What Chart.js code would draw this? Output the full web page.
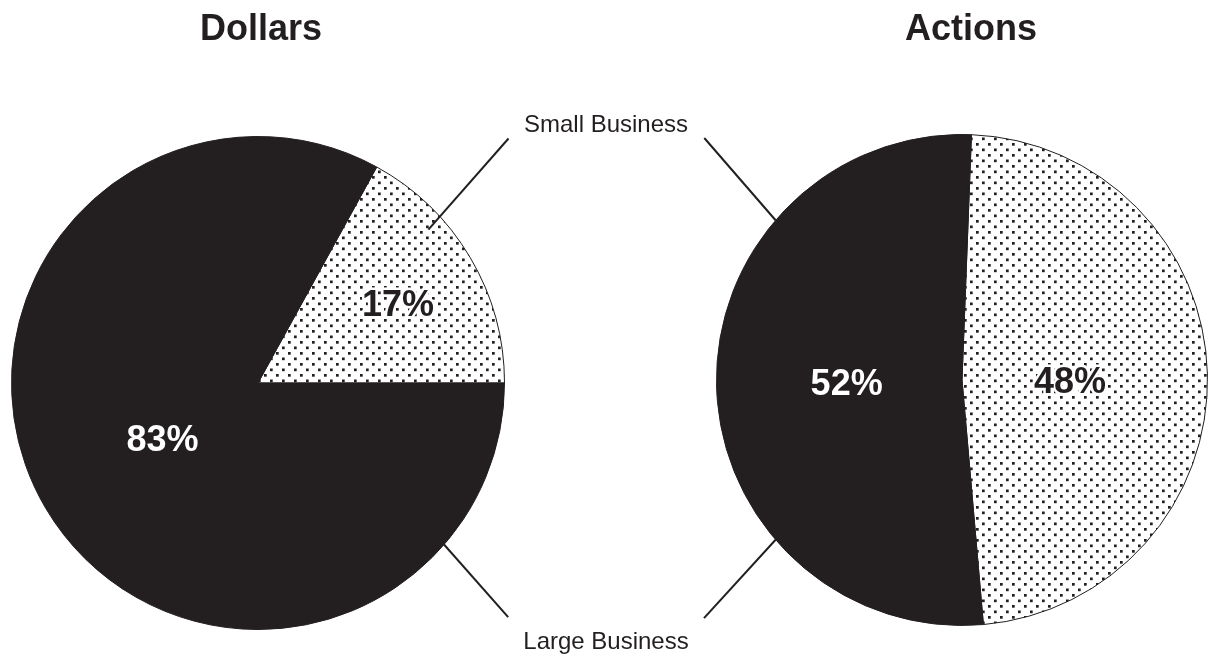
<!DOCTYPE html>
<html>
<head>
<meta charset="utf-8">
<script src="https://cdn.jsdelivr.net/npm/chart.js@4.4.0/dist/chart.umd.min.js"></script>
<style>
    html, body { margin: 0; padding: 0; background: #fff; }
    #page { position: relative; width: 1208px; height: 659px; overflow: hidden; font-family: "Liberation Sans", Arial, sans-serif; color: #231f20; }
    canvas { position: absolute; top: 0; }
    .title { position: absolute; font-weight: bold; font-size: 36px; line-height: 36px; transform: translateX(-50%); white-space: nowrap; }
    .callout { position: absolute; font-size: 24px; line-height: 24px; transform: translateX(-50%); white-space: nowrap; }
</style>
</head>
<body>
<div id="page">
    <canvas id="dollarsChart" width="604" height="659" style="left:0"></canvas>
    <canvas id="actionsChart" width="604" height="659" style="left:604px"></canvas>
    <div class="title" id="titleLeft" style="left:261px; top:10px"></div>
    <div class="title" id="titleRight" style="left:971px; top:10px"></div>
    <div class="callout" id="calloutTop" style="left:606px; top:112px"></div>
    <div class="callout" id="calloutBottom" style="left:606px; top:629px"></div>
</div>
<script>
// data
const categories = ['Small Business', 'Large Business'];
const dollarsShare = [17, 83];
const actionsShare = [48, 52];
const chartTitles = ['Dollars', 'Actions'];

const INK = '#231f20';

document.getElementById('titleLeft').textContent = chartTitles[0];
document.getElementById('titleRight').textContent = chartTitles[1];
document.getElementById('calloutTop').textContent = categories[0];
document.getElementById('calloutBottom').textContent = categories[1];

// stipple fill for the small business slices
function makeDots() {
    const c = document.createElement('canvas');
    c.width = 12;
    c.height = 11;
    const g = c.getContext('2d');
    g.fillStyle = '#fff';
    g.fillRect(0, 0, 12, 11);
    g.fillStyle = INK;
    g.fillRect(0, 0, 2.7, 2.7);
    g.fillRect(6, 5.5, 2.7, 2.7);
    return g.createPattern(c, 'repeat');
}

// percent labels + leader lines, drawn from the arc geometry
const piePlugin = {
    id: 'pieExtras',
    afterDraw(chart, args, opts) {
        const ctx = chart.ctx;
        const arcs = chart.getDatasetMeta(0).data;
        const values = chart.data.datasets[0].data;
        const cx = arcs[0].x, cy = arcs[0].y, r = arcs[0].outerRadius;

        ctx.save();
        ctx.font = 'bold 36px "Liberation Sans", Arial, sans-serif';
        ctx.textAlign = 'center';
        ctx.textBaseline = 'middle';
        arcs.forEach((arc, i) => {
            const mid = (arc.startAngle + arc.endAngle) / 2;
            const f = opts.labelRadius[i];
            const x = cx + Math.cos(mid) * r * f;
            const y = cy + Math.sin(mid) * r * f + opts.labelDy[i];
            const text = values[i] + '%';
            if (i === 0) {
                ctx.lineWidth = 5;
                ctx.strokeStyle = '#fff';
                ctx.lineJoin = 'round';
                ctx.strokeText(text, x, y);
                ctx.fillStyle = INK;
            } else {
                ctx.fillStyle = '#fff';
            }
            ctx.fillText(text, x, y);
        });

        ctx.strokeStyle = INK;
        ctx.lineWidth = 2;
        opts.leaders.forEach(l => {
            const a1 = (l.from[0] - 90) * Math.PI / 180;
            const a2 = (l.to[0] - 90) * Math.PI / 180;
            ctx.beginPath();
            ctx.moveTo(cx + Math.cos(a1) * r * l.from[1], cy + Math.sin(a1) * r * l.from[1]);
            ctx.lineTo(cx + Math.cos(a2) * r * l.to[1], cy + Math.sin(a2) * r * l.to[1]);
            ctx.stroke();
        });
        ctx.restore();
    }
};

function buildPie(id, values, rotation, padding, labelRadius, labelDy, leaders) {
    const ctx = document.getElementById(id).getContext('2d');
    return new Chart(ctx, {
        type: 'pie',
        data: {
            labels: categories,
            datasets: [{
                data: values,
                backgroundColor: [makeDots(), INK],
                borderColor: [INK, INK],
                borderWidth: 1
            }]
        },
        options: {
            responsive: false,
            animation: false,
            rotation: rotation,
            layout: { padding: padding },
            plugins: {
                legend: { display: false },
                tooltip: { enabled: false },
                title: { display: false },
                pieExtras: { labelRadius: labelRadius, labelDy: labelDy, leaders: leaders }
            }
        },
        plugins: [piePlugin]
    });
}

buildPie('dollarsChart', dollarsShare, 90 - dollarsShare[0] * 3.6,
    { left: 11, right: 99, top: 136, bottom: 29 },
    [0.66, 0.45], [6, 2],
    [
        { from: [48, 0.93], to: [45.7, 1.42] },
        { from: [130.9, 0.99], to: [133.1, 1.39] }
    ]);

buildPie('actionsChart', actionsShare, 2.2,
    { left: 112, right: 0, top: 134, bottom: 33 },
    [0.44, 0.47], [6, 2],
    [
        { from: [310.6, 1.0], to: [313.2, 1.44] },
        { from: [229.4, 1.0], to: [227.3, 1.43] }
    ]);
</script>
</body>
</html>
